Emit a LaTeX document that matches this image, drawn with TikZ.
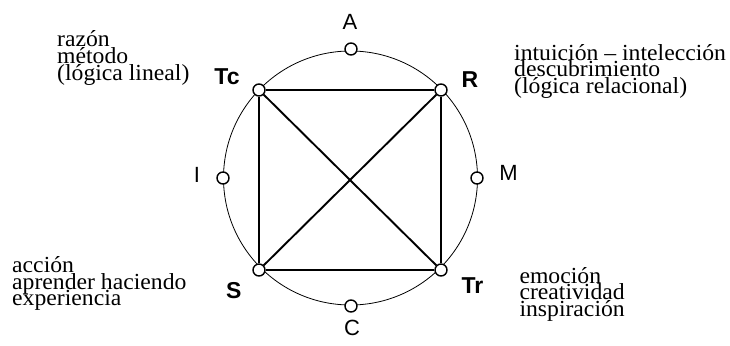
\documentclass[tikz,border=0pt]{standalone}
\usepackage{fontspec}
\setmainfont{Liberation Serif}[FakeStretch=1.03]
\newfontfamily\labelfont{Liberation Sans}
\newcommand\threelines[3]{\vtop{\baselineskip=16.8pt\lineskiplimit=-50pt\lineskip=0pt\hbox{#1}\hbox{#2}\hbox{#3}}}
\begin{document}
\begin{tikzpicture}[x=1pt,y=-1pt,
  dot/.style={circle,draw,fill=white,line width=1.4pt,inner sep=0pt,minimum size=12pt},
  lab/.style={font=\labelfont\fontsize{22}{22}\selectfont,inner sep=0pt},
  blab/.style={font=\labelfont\bfseries\fontsize{23}{23}\selectfont,inner sep=0pt},
  desc/.style={font=\fontsize{23}{16.8}\selectfont,inner sep=0pt,anchor=base west},
  edge/.style={line width=1.9pt}]
\useasboundingbox (0,0) rectangle (730,345);
\coordinate (O) at (350.5,178);
\draw[line width=0.8pt] (O) circle (127pt);
% corners of the square
\node[dot] (Tc) at (259,90) {};
\node[dot] (R) at (441,90) {};
\node[dot] (S) at (259,270) {};
\node[dot] (Tr) at (441,270) {};
\draw[edge] (Tc) -- (R);
\draw[edge] (R) -- (Tr);
\draw[edge] (Tr) -- (S);
\draw[edge] (S) -- (Tc);
\draw[edge] (Tc) -- (Tr);
\draw[edge] (R) -- (S);
% points on the circle
\node[dot] (A) at (351,49) {};
\node[dot] (C) at (351,306) {};
\node[dot] (I) at (223,178) {};
\node[dot] (M) at (477,178) {};
% labels
\node[lab] (Al) at (350,22) {A};
\node[lab] (Cl) at (352,328) {C};
\node[lab] (Il) at (197,175) {I};
\node[lab] (Ml) at (508.5,173) {M};
\node[blab] (Tcl) at (227,77) {Tc};
\node[blab] (Rl) at (470,79.5) {R};
\node[blab] (Sl) at (233.7,291) {S};
\node[blab] (Trl) at (472.5,286) {Tr};
% descriptions
\node[desc] (tl) at (57,46.7) {\threelines{razón}{método}{(lógica lineal)}};
\node[desc] (tr) at (514,60) {\threelines{intuición – intelección}{descubrimiento}{(lógica relacional)}};
\node[desc] (bl) at (12,272.3) {\threelines{acción}{aprender haciendo}{experiencia}};
\node[desc] (br) at (519.3,283) {\threelines{emoción}{creatividad}{inspiración}};
\end{tikzpicture}
\end{document}
